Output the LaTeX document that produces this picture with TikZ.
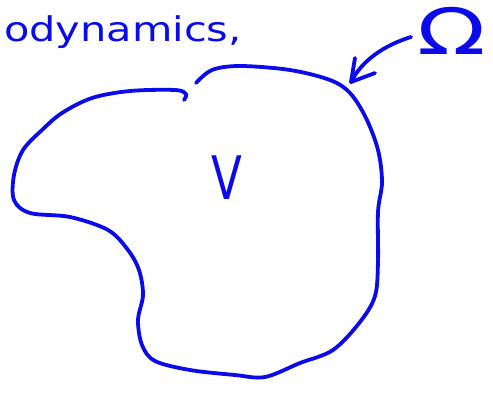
\documentclass[tikz,border=0pt]{standalone}
\usepackage{fontspec}
\setsansfont{DejaVu Sans}
\definecolor{ink}{RGB}{10,10,235}
\begin{document}
\begin{tikzpicture}[x=1pt,y=-1pt,
  pen/.style={draw=ink,line width=3.8pt,line cap=round,line join=round},
  hand/.style={text=ink,inner sep=0pt}]
\useasboundingbox (0,0) rectangle (493,394);
% title fragment
\node[hand,anchor=base west,xscale=1.22,font=\fontsize{34}{34}\sffamily] (title) at (4,41) {odynamics,};
% region label
\node[hand,anchor=center,xscale=0.75,font=\fontsize{60}{60}\sffamily] (vol) at (227,178) {V};
% boundary label
\node[hand,anchor=center,xscale=1.4,font=\fontsize{64}{64}\sffamily] (om) at (452,31) {Ω};
% blob
\draw[pen] plot[smooth,tension=0.55] coordinates {
 (196,83) (212,70) (240,66) (290,70) (330,80) (350,93) (366,118) (378,150) (382,182)
 (378,212) (378,262) (375,296) (360,322) (333,350) (300,363) (265,377) (235,375)
 (190,370) (155,361) (142,345) (138,320) (143,295) (139,270) (128,250) (108,230)
 (70,217) (30,213) (14,200) (14,175) (23,150) (42,130) (62,113) (92,98) (130,91)
 (175,90) (186,94) (184,100)};
\coordinate (tip) at (351,82);
\draw[pen] (411,37) .. controls (385,45) and (362,60) .. (tip);
\draw[pen] (355,58) -- (tip) -- (375,73);
\end{tikzpicture}
\end{document}
